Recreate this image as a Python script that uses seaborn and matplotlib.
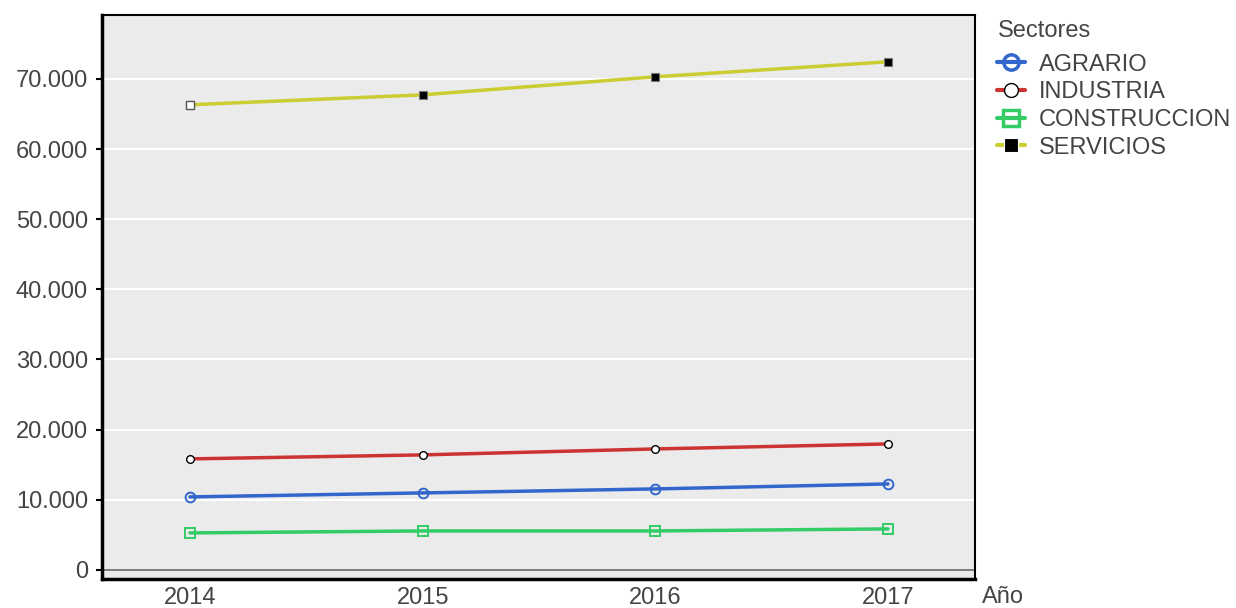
import pandas as pd
import numpy as np
import matplotlib.pyplot as plt
import seaborn as sns
from matplotlib.ticker import FuncFormatter

years = [2014, 2015, 2016, 2017]
agrario = [10410, 10980, 11550, 12260]
industria = [15830, 16400, 17250, 17960]
construccion = [5280, 5560, 5560, 5850]
servicios = [66300, 67720, 70290, 72430]
sectores = ['AGRARIO', 'INDUSTRIA', 'CONSTRUCCION', 'SERVICIOS']

colors = {'AGRARIO': '#3366CC', 'INDUSTRIA': '#CC3333',
          'CONSTRUCCION': '#33CC66', 'SERVICIOS': '#CCCC33'}

df = pd.DataFrame({
    'Año': years * 4,
    'valor': agrario + industria + construccion + servicios,
    'Sectores': [s for s in sectores for _ in years],
})

sns.set_theme(style="white")
plt.rcParams['font.family'] = ['Liberation Sans', 'DejaVu Sans']

fig = plt.figure(figsize=(12.36, 6.08), dpi=100)
ax = fig.add_axes([102 / 1236, 29 / 608, 873 / 1236, 564 / 608])
ax.set_facecolor('#EBEBEB')

sns.lineplot(data=df, x='Año', y='valor', hue='Sectores', palette=colors,
             hue_order=sectores, linewidth=2.5, ax=ax, legend=False)

# markers per sector
mstyle = {
    'AGRARIO': dict(marker='o', mfc='none', mec='#3366CC', ms=7, mew=1.4),
    'INDUSTRIA': dict(marker='o', mfc='white', mec='black', ms=5.5, mew=1),
    'CONSTRUCCION': dict(marker='s', mfc='none', mec='#33CC66', ms=6.5, mew=1.4),
    'SERVICIOS': dict(marker='s', mfc='black', mec='#777777', ms=5.5, mew=0.8),
}
for s in sectores:
    sub = df[df['Sectores'] == s]
    ax.plot(sub['Año'], sub['valor'], linestyle='none', **mstyle[s])
sub = df[df['Sectores'] == 'SERVICIOS'].iloc[:1]
ax.plot(sub['Año'], sub['valor'], linestyle='none', marker='s', mfc='white',
        mec='#555555', ms=5.5, mew=1)

ax.set_xlim(2013.622, 2017.374)
ax.set_ylim(-1290, 79100)
ax.set_xticks(years)
ax.set_yticks(range(0, 70001, 10000))
ax.yaxis.set_major_formatter(FuncFormatter(lambda v, p: f"{int(v):,}".replace(',', '.')))
ax.grid(axis='y', color='white', linewidth=1.5)
ax.axhline(0, color='#666666', linewidth=1.2)
ax.set_axisbelow(True)

for side in ['left', 'bottom']:
    ax.spines[side].set_linewidth(2.5)
for side in ['top', 'right']:
    ax.spines[side].set_linewidth(1.5)
for sp in ax.spines.values():
    sp.set_color('black')

ax.tick_params(axis='y', left=True, length=4, width=1.5, color='black',
               labelsize=17, labelcolor='#444444', pad=6)
ax.tick_params(axis='x', bottom=False, labelsize=17, labelcolor='#444444', pad=0)
ax.set_xlabel('')
ax.set_ylabel('')
fig.text(1003 / 1236, 1 - 597 / 608, 'Año', fontsize=17, color='#444444',
         ha='center', va='center')

# legend
handles = []
for s in sectores:
    h, = ax.plot([], [], color=colors[s], linewidth=3, **mstyle[s])
    handles.append(h)
handles[0].set_markersize(11)
handles[0].set_markeredgewidth(2.5)
handles[1].set_markersize(10)
handles[2].set_markersize(11)
handles[2].set_markeredgewidth(2.5)
handles[3].set_markersize(10)
handles[3].set_markeredgecolor('white')
leg = fig.legend(handles, sectores, title='Sectores', loc='upper left',
                 bbox_to_anchor=(988 / 1236, 1 - 11 / 608), frameon=False,
                 fontsize=17, title_fontsize=17, handlelength=1.15,
                 labelspacing=0.24, handletextpad=0.6, borderaxespad=0)
leg._legend_box.align = 'left'
leg._legend_box.sep = 8
for t in leg.get_texts():
    t.set_color('#444444')
leg.get_title().set_color('#444444')

fig.savefig('out.png', dpi=100)
